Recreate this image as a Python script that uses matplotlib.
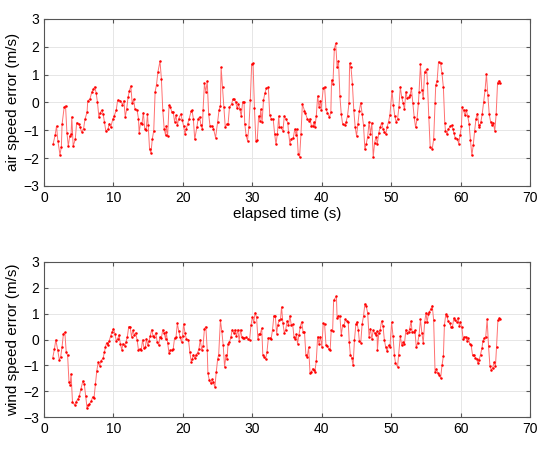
import numpy as np
import matplotlib
matplotlib.use('Agg')
import matplotlib.pyplot as plt

plt.rcParams['font.family'] = ['Liberation Sans', 'DejaVu Sans']

# air speed error (top)
air_t = [1.3,1.6,1.8,2.0,2.3,2.5,2.6,2.9,3.1,3.3,3.5,3.7,3.9,4.0,4.2,4.5,4.7,5.0,5.2,5.4,5.7,5.9,6.2,6.3,6.6,6.9,7.1,7.3,7.5,7.7,7.9,8.1,8.3,8.5,8.7,8.9,9.2,9.4,9.6,9.9,10.1,10.4,10.6,11.0,11.3,11.5,11.7,11.9,12.1,12.3,12.5,12.7,12.9,13.1,13.4,13.6,13.7,13.9,14.1,14.3,14.5,14.7,14.9,15.0,15.2,15.4,15.6,15.8,16.0,16.2,16.4,16.7,16.9,17.1,17.3,17.5,17.6,17.8,18.0,18.2,18.4,18.6,18.8,19.0,19.2,19.4,19.7,19.9,20.1,20.3,20.5,20.7,20.9,21.2,21.3,21.5,21.7,22.0,22.2,22.4,22.6,22.8,22.9,23.1,23.3,23.5,23.7,23.9,24.2,24.4,24.7,25.0,25.2,25.4,25.5,25.7,25.9,26.1,26.3,26.5,26.7,27.0,27.2,27.4,27.6,27.8,28.0,28.2,28.4,28.6,28.8,28.9,29.1,29.3,29.5,29.7,29.9,30.1,30.3,30.5,30.7,30.9,31.1,31.2,31.4,31.6,31.8,32.0,32.3,32.5,32.7,33.0,33.2,33.4,33.6,33.8,33.9,
         34.1,34.4,34.6,34.8,35.1,35.2,35.4,35.6,35.9,36.1,36.3,36.4,36.6,36.8,37.0,37.2,37.5,37.6,37.9,38.1,38.3,38.5,38.7,38.9,39.0,39.2,39.4,39.6,39.8,39.9,40.2,40.4,40.6,40.8,41.1,41.3,41.4,41.6,41.8,42.0,42.2,42.4,42.6,42.8,43.0,43.3,43.5,43.7,43.9,44.0,44.2,44.4,44.6,44.8,45.0,45.2,45.4,45.6,45.8,46.0,46.2,46.4,46.6,46.8,47.0,47.2,47.4,47.6,47.8,48.0,48.2,48.4,48.6,48.8,49.0,49.2,49.4,49.6,49.8,50.1,50.3,50.5,50.7,50.9,51.1,51.3,51.5,51.7,51.9,52.1,52.3,52.5,52.7,52.9,53.1,53.3,53.5,53.7,53.9,54.0,54.2,54.4,54.6,54.8,55.1,55.2,55.4,55.6,55.9,56.1,56.3,56.4,56.6,56.8,57.1,57.3,57.5,57.7,57.8,58.0,58.2,58.5,58.7,58.9,59.0,59.2,59.5,59.7,59.9,60.1,60.2,60.4,60.6,60.8,61.0,61.2,61.4,61.6,61.8,62.0,62.2,62.4,62.6,62.7,62.9,63.1,63.3,63.5,63.7,63.9,64.1,64.3,64.5,64.7,64.9,65.1,65.3,65.5,65.7]
air_v = [-1.51,-1.18,-0.85,-1.39,-1.88,-1.6,-0.79,-0.18,-0.12,-1.09,-1.57,-1.21,-1.15,-0.52,-1.57,-1.33,-0.73,-0.78,-0.88,-1.06,-0.94,-0.61,-0.35,0.06,0.11,0.38,0.47,0.56,0.35,0,-0.52,-0.37,-0.28,-0.4,-0.7,-1.03,-0.97,-0.76,-0.9,-0.61,-0.49,-0.28,0.08,0.06,-0.08,0.06,-0.52,-0.25,0.18,0.42,0.59,-0.04,0.11,-0.25,-0.28,-0.58,-1.09,-0.73,-0.78,-0.37,-0.94,-1.0,-0.42,-0.82,-1.69,-1.81,-1.3,-1.02,0.38,0.64,1.09,1.48,0.85,-0.28,-0.94,-1.18,-0.85,-1.21,-0.11,-0.18,-0.34,-0.34,-0.7,-0.46,-0.82,-0.58,-0.42,-0.64,-0.85,-1.14,-0.94,-0.76,-0.58,-0.31,-0.28,-0.58,-1.33,-0.9,-0.58,-0.52,-0.82,-0.97,-0.28,0.68,0.38,0.77,-0.4,-0.85,-0.85,-0.94,-1.27,-0.7,-0.28,-0.13,1.26,0.54,-0.18,-0.9,-0.78,-0.78,-0.18,-0.06,0.11,0.11,0.01,-0.22,-0.06,-0.25,-0.49,0.02,0.01,-0.76,-1.18,-1.38,-0.88,0.08,1.38,1.4,-0.22,-1.38,-1.36,-0.49,-0.66,-0.25,-0.7,0.08,0.32,0.5,0.54,-0.46,-0.58,-0.61,-1.12,-1.51,-1.12,-0.49,-0.9,
         -0.9,-1.02,-0.49,-0.58,-0.73,-1.06,-1.48,-1.31,-1.27,-0.96,-1.18,-0.97,-1.84,-1.96,-1.12,-0.06,-0.3,-0.37,-0.58,-0.66,-0.58,-0.85,-0.85,-0.7,-0.9,-0.49,0.23,-0.16,0.06,-0.28,0.5,0.56,-0.25,-0.37,-0.54,-0.34,0.8,0.66,1.92,2.12,1.26,1.49,0.23,-0.43,-0.79,-0.82,-0.7,-0.49,-0.04,1.4,1.26,0.66,-0.28,-0.88,-1.21,-0.76,-0.3,-0.01,-0.42,-0.82,-1.69,-1.48,-1.24,-0.7,-1.14,-0.73,-1.96,-1.45,-1.24,-1.48,-1.09,-0.9,-0.73,-0.94,-1.06,-1.14,-0.88,-0.7,-0.46,0.42,-0.1,-0.49,-0.7,-0.61,-0.16,0.56,0.18,-0.01,-0.25,0.38,0.14,0.18,0.26,0.5,-0.04,-0.54,-0.9,-0.61,-0.04,0.38,1.37,0.44,0.14,1.1,1.19,0.71,-0.52,-1.62,-1.66,-1.33,-0.04,0.62,0.78,1.46,1.4,1.04,0.54,-0.73,-1.02,-1.14,-0.97,-0.85,-0.82,-0.97,-1.09,-1.27,-1.3,-1.48,-1.18,-0.85,-0.18,-0.28,-0.46,-0.28,-0.49,-0.76,-1.36,-1.9,-1.54,-1.02,-0.58,-0.4,-0.82,-0.9,-0.7,-0.4,0.02,0.44,1.02,0.26,-0.42,-0.7,-0.82,-0.73,-1.02,-0.42,0.71,0.78,0.68]

# wind speed error (bottom)
wind_t = [1.25,1.5,1.7,1.97,2.2,2.4,2.6,2.8,3.0,3.2,3.4,3.6,3.75,3.9,4.1,4.4,4.6,4.9,5.1,5.3,5.6,5.8,6.0,6.2,6.3,6.5,6.8,7.0,7.2,7.4,7.6,7.8,8.0,8.2,8.5,8.7,8.85,9.0,9.2,9.4,9.6,9.8,10.0,10.2,10.4,10.6,10.8,11.0,11.2,11.35,11.6,11.8,12.0,12.2,12.4,12.6,12.8,13.0,13.2,13.4,13.6,13.75,14.0,14.2,14.4,14.6,14.75,14.95,15.1,15.3,15.5,15.7,15.9,16.1,16.3,16.5,16.7,16.9,17.1,17.3,17.5,17.6,17.8,18.0,18.2,18.4,18.6,18.8,19.0,19.2,19.4,19.6,19.8,19.95,20.1,20.3,20.5,20.8,21.0,21.2,21.35,21.5,21.7,21.9,22.1,22.3,22.5,22.7,22.9,23.1,23.3,23.5,23.6,23.8,24.0,24.2,24.4,24.6,24.8,25.0,25.15,25.4,25.6,25.8,26.0,26.2,26.35,26.5,26.7,26.9,27.1,27.3,27.5,27.7,27.9,28.1,28.3,28.5,28.7,28.85,29.1,29.4,29.6,29.8,30.0,30.2,30.4,30.6,30.8,30.96,31.15,31.35,31.5,31.7,31.9,32.1,32.3,32.5,32.7,32.9,33.1,33.3,33.5,33.65,33.85,
          34.05,34.2,34.4,34.6,34.8,35.0,35.2,35.4,35.6,35.8,36.0,36.2,36.35,36.5,36.7,36.9,37.1,37.3,37.5,37.7,37.9,38.1,38.3,38.5,38.7,38.85,39.0,39.2,39.4,39.6,39.8,40.0,40.2,40.4,40.6,40.8,41.0,41.2,41.35,41.55,41.7,42.1,42.2,42.4,42.6,42.8,43.0,43.2,43.4,43.6,43.8,43.95,44.1,44.3,44.5,44.7,44.9,45.05,45.25,45.4,45.6,45.8,46.0,46.2,46.4,46.6,46.8,47.0,47.2,47.4,47.6,47.75,47.95,48.0,48.2,48.4,48.6,48.8,49.0,49.2,49.4,49.6,49.8,50.05,50.25,50.45,50.6,50.9,51.05,51.3,51.5,51.7,51.9,52.1,52.3,52.5,52.65,52.85,53.0,53.2,53.4,53.6,53.8,54.0,54.2,54.4,54.6,54.8,55.0,55.15,55.35,55.5,55.7,55.9,56.1,56.3,56.5,56.7,56.9,57.1,57.3,57.5,57.65,57.85,58.0,58.2,58.4,58.6,58.8,59.0,59.2,59.4,59.6,59.8,59.95,60.15,60.35,60.5,60.7,60.9,61.1,61.3,61.5,61.7,61.9,62.1,62.3,62.45,62.65,62.85,63.05,63.2,63.4,63.6,63.8,64.0,64.2,64.4,64.6,64.8,65.0,65.15,65.35,65.55,65.7]
wind_v = [-0.72,-0.37,-0.01,-0.4,-0.78,-0.67,-0.28,0.23,0.28,-0.49,-0.61,-1.66,-1.74,-1.33,-2.41,-2.53,-2.41,-2.29,-2.17,-1.93,-1.6,-1.72,-2.17,-2.65,-2.53,-2.5,-2.38,-2.22,-2.26,-1.72,-1.21,-0.88,-1.02,-0.82,-0.73,-0.49,-0.28,-0.13,-0.22,-0.04,0.14,0.3,0.42,0.23,-0.04,0.02,0.18,-0.18,-0.4,-0.16,-0.25,-0.1,0.11,0.5,0.5,0.11,0.35,0.18,0.26,-0.01,-0.4,-0.37,-0.4,-0.01,-0.34,-0.28,0.02,-0.22,-0.07,0.14,0.38,0.14,0.11,0.26,-0.1,-0.22,0.11,0.06,0.38,0.26,0.02,0.3,-0.13,-0.52,-0.42,-0.4,-0.37,0.06,0.08,0.62,0.32,0.08,-0.1,0.14,0.6,0.26,0.02,-0.01,-0.49,-0.85,-0.76,-0.58,-0.73,-0.58,-0.52,-0.37,-0.01,-0.4,-0.25,0.42,0.5,-0.4,-1.3,-1.57,-1.69,-1.54,-1.66,-1.84,-1.26,-0.76,-0.58,0.74,0.32,-0.22,-1.06,-0.61,-0.76,-0.16,-0.1,0.08,0.38,0.26,0.38,0.14,0.38,-0.04,0.38,0.08,0.06,0.06,0.08,0.02,-0.01,0.56,0.86,0.68,1.04,0.86,0.02,0.2,0.23,0.44,-0.58,-0.66,-0.76,-0.49,0.06,0.06,0.02,0.38,0.92,0.92,0.23,0.56,0.74,
          0.78,1.26,0.62,0.26,0.38,0.71,0.56,0.92,0.56,0.59,0.08,0.02,0.2,-0.16,0.18,0.5,0.68,0.3,0.3,-0.58,-0.66,-0.3,-1.3,-1.26,-1.12,-1.18,-1.24,-0.82,0.11,-0.16,0.11,-0.28,0.62,0.59,-0.22,-0.25,-0.37,-0.4,0.35,0.32,1.52,1.67,0.83,0.92,0.9,0.18,0.56,0.54,0.78,0.71,0.68,-0.1,-0.58,-0.7,-1.0,-0.01,0.59,0.68,0.38,-0.06,-0.13,0.59,0.9,1.38,1.28,1.02,0.11,0.42,0.02,0.35,0.26,0.18,0.32,-0.42,0.26,0.38,0.71,0.54,-0.01,-0.3,-0.46,-0.22,-0.3,0.66,0.14,-0.61,-0.9,-1.06,-0.61,0.14,-0.22,-0.1,-0.16,0.38,0.26,0.3,0.42,0.71,0.3,0.3,0.35,-0.3,-0.13,0.18,0.78,0.26,-0.13,0.66,1.04,0.66,0.98,1.07,1.19,1.31,0.74,-1.24,-1.14,-1.3,-1.36,-1.5,-1.0,-0.64,0.56,0.98,0.9,0.71,0.62,0.5,0.47,0.83,0.74,0.68,0.83,0.54,0.68,0.47,0.02,0.08,0.11,-0.04,0.06,-0.18,-0.22,-0.61,-0.61,-0.7,-0.76,-0.9,-0.78,-0.58,-0.34,-0.04,0.06,0.11,0.78,-0.25,-1.02,-1.18,-1.09,-0.88,-1.02,-0.3,0.74,0.83,0.78]

fig = plt.figure(figsize=(5.5, 4.5), dpi=100)
ax1 = fig.add_axes([0.08, 0.587, 0.884, 0.371])
ax2 = fig.add_axes([0.08, 0.073, 0.884, 0.345])

for ax, t, v, lab in [(ax1, air_t, air_v, 'air speed error (m/s)'),
                      (ax2, wind_t, wind_v, 'wind speed error (m/s)')]:
    ax.plot(t, v, '-', color='#ff7070', linewidth=0.7)
    ax.plot(t, v, '.', color='red', markersize=1.6)
    ax.set_xlim(0, 70)
    ax.set_ylim(-3, 3)
    ax.set_xticks(range(0, 71, 10))
    ax.set_yticks(range(-3, 4))
    ax.grid(True, color='#e6e6e6', linewidth=0.7)
    ax.set_axisbelow(True)
    ax.tick_params(direction='in', labelsize=10, length=3, top=True, right=True,
                   color='#555555')
    for s in ax.spines.values():
        s.set_color('#555555')
        s.set_linewidth(0.8)
    ax.set_ylabel(lab, fontsize=11, labelpad=2)

ax1.set_xlabel('elapsed time (s)', fontsize=11, labelpad=2)

fig.savefig('out.png', dpi=100)
